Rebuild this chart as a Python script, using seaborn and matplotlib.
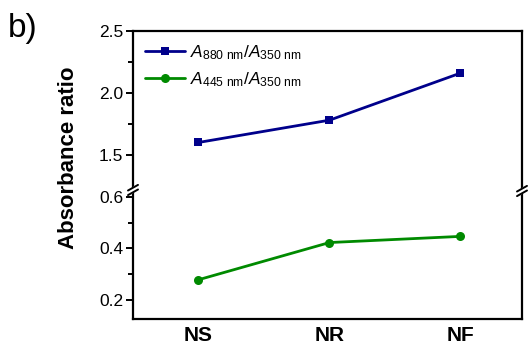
import matplotlib
matplotlib.use("Agg")
import matplotlib.pyplot as plt
from matplotlib.lines import Line2D
import seaborn as sns
import pandas as pd

categories = ["NS", "NR", "NF"]
ratio_880_350 = [1.60, 1.78, 2.16]
ratio_445_350 = [0.278, 0.423, 0.447]
label_880 = r"$\mathit{A}_{\mathrm{880\ nm}}/\mathit{A}_{\mathrm{350\ nm}}$"
label_445 = r"$\mathit{A}_{\mathrm{445\ nm}}/\mathit{A}_{\mathrm{350\ nm}}$"

sns.set_style("ticks")
plt.rcParams["font.family"] = ["Liberation Sans", "DejaVu Sans"]
plt.rcParams["mathtext.fontset"] = "custom"
plt.rcParams["mathtext.rm"] = "Liberation Sans"
plt.rcParams["mathtext.it"] = "Liberation Sans:italic"
plt.rcParams["mathtext.bf"] = "Liberation Sans:bold"
for k in ("text.color", "axes.labelcolor", "xtick.color", "ytick.color", "axes.edgecolor"):
    plt.rcParams[k] = "black"

W, H = 530, 344
fig = plt.figure(figsize=(W / 100, H / 100), dpi=100)
L, R, T, B, BRK = 133, 522, 31, 319, 192
ax_top = fig.add_axes([L / W, 1 - BRK / H, (R - L) / W, (BRK - T) / H])
ax_bot = fig.add_axes([L / W, 1 - B / H, (R - L) / W, (B - BRK) / H])

df_top = pd.DataFrame({"cat": categories, "val": ratio_880_350})
df_bot = pd.DataFrame({"cat": categories, "val": ratio_445_350})

navy = "#00008B"
green = "#008A00"
sns.lineplot(data=df_top, x="cat", y="val", ax=ax_top, color=navy, lw=2.0,
             marker="s", markersize=6, markeredgewidth=0, sort=False)
sns.lineplot(data=df_bot, x="cat", y="val", ax=ax_bot, color=green, lw=2.0,
             marker="o", markersize=6.5, markeredgewidth=0, sort=False)

for ax in (ax_top, ax_bot):
    ax.set_xlim(-0.5, 2.47)
    ax.set_xlabel("")
    ax.set_ylabel("")
    for s in ax.spines.values():
        s.set_linewidth(1.6)
        s.set_color("black")
    ax.tick_params(axis="y", which="major", direction="out", length=5, width=1.4,
                   labelsize=12.5, pad=2, right=False, colors="black")
    ax.tick_params(axis="y", which="minor", direction="out", length=3.5, width=1.4, right=False)

ax_top.set_ylim(1.2, 2.5)
ax_top.set_yticks([1.5, 2.0, 2.5])
ax_top.set_yticks([1.75, 2.25], minor=True)
ax_top.set_yticklabels(["1.5", "2.0", "2.5"])
ax_top.spines["bottom"].set_visible(False)
ax_top.tick_params(axis="x", which="both", bottom=False, labelbottom=False)

ax_bot.set_ylim(0.125, 0.62)
ax_bot.set_yticks([0.2, 0.4, 0.6])
ax_bot.set_yticks([0.3, 0.5], minor=True)
ax_bot.set_yticklabels(["0.2", "0.4", "0.6"])
ax_bot.spines["top"].set_visible(False)
ax_bot.tick_params(axis="x", which="both", length=0, labelsize=15, pad=5, colors="black")
for t in ax_bot.get_xticklabels():
    t.set_fontweight("bold")

# legend
handles = [Line2D([], [], color=navy, lw=2.0, marker="s", markersize=6, markeredgewidth=0),
           Line2D([], [], color=green, lw=2.0, marker="o", markersize=6.5, markeredgewidth=0)]
ax_top.legend(handles, [label_880, label_445], loc="upper left", frameon=False,
              fontsize=12.5, handlelength=2.3, handletextpad=0.3, labelspacing=0.5,
              borderaxespad=0.3, bbox_to_anchor=(0.0, 1.0))

# axis break marks
def brk(xpx, ypx):
    fig.add_artist(plt.Polygon([[(xpx - 2) / W, 1 - (ypx - 1.0) / H],
                                [(xpx + 2) / W, 1 - (ypx - 3.5) / H],
                                [(xpx + 2) / W, 1 - (ypx + 1.0) / H],
                                [(xpx - 2) / W, 1 - (ypx + 3.5) / H]],
                               closed=True, color="white", zorder=5))
    for dy in (-2.3, 2.3):
        y = ypx + dy
        fig.add_artist(Line2D([(xpx - 5) / W, (xpx + 5) / W],
                              [1 - (y + 2.8) / H, 1 - (y - 2.8) / H],
                              color="black", lw=1.4, zorder=6))

brk(L, 190)
brk(R, 191)

fig.text(68 / W, 0.54, "Absorbance ratio", rotation=90, fontsize=16, fontweight="bold",
         ha="center", va="center")
fig.text(8 / W, 1 - 28 / H, "b)", fontsize=24, ha="left", va="center")

fig.savefig("out.png", dpi=100)
